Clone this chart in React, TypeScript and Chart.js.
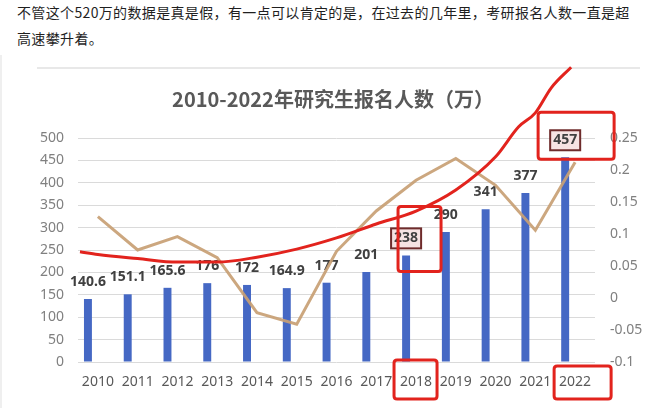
import React, { useEffect, useRef } from "react";
import { Chart, registerables } from "chart.js";

Chart.register(...registerables);

const introLine1 = "不管这个520万的数据是真是假，有一点可以肯定的是，在过去的几年里，考研报名人数一直是超";
const introLine2 = "高速攀升着。";
const chartTitle = "2010-2022年研究生报名人数（万）";

const years = ["2010", "2011", "2012", "2013", "2014", "2015", "2016", "2017", "2018", "2019", "2020", "2021", "2022"];
const applicants = [140.6, 151.1, 165.6, 176, 172, 164.9, 177, 201, 238, 290, 341, 377, 457];
const growthRate = [0.127, 0.075, 0.096, 0.063, -0.023, -0.041, 0.073, 0.136, 0.184, 0.218, 0.176, 0.106, 0.212];
// hand-drawn red trend curve (category index, value on left axis)
const trendX = [-0.45, 0, 1, 2, 3, 4, 5, 6, 7, 8, 9, 10, 10.58, 11, 11.4, 11.9];
const trendY = [246, 240, 231, 223, 223, 234, 252, 277, 308, 337, 384, 458, 525, 556, 612, 658];
const leftTicks = [0, 50, 100, 150, 200, 250, 300, 350, 400, 450, 500];
const rightTicks = [-0.1, -0.05, 0, 0.05, 0.1, 0.15, 0.2, 0.25];
const boxedYears = ["2018", "2022"];

const FONT = "'Noto Sans', 'Noto Sans CJK SC', sans-serif";

const barLabels = {
  id: "barLabels",
  afterDatasetDraw(chart: any, args: any) {
    if (args.index !== 0) return;
    const ctx = chart.ctx;
    ctx.save();
    ctx.font = `bold 14px ${FONT}`;
    ctx.textAlign = "center";
    ctx.textBaseline = "middle";
    args.meta.data.forEach((bar: any, i: number) => {
      const txt = String(applicants[i]);
      const x = bar.x;
      const y = bar.y - 17;
      if (boxedYears.includes(years[i])) {
        const w = ctx.measureText(txt).width + 6;
        ctx.fillStyle = "#F6E3E3";
        ctx.fillRect(x - w / 2, y - 10, w, 20);
        ctx.strokeStyle = "#6E2B2B";
        ctx.lineWidth = 2;
        ctx.strokeRect(x - w / 2, y - 10, w, 20);
      }
      ctx.fillStyle = "#404040";
      ctx.fillText(txt, x, y);
    });
    ctx.restore();
  },
};

function roundRect(ctx: CanvasRenderingContext2D, x1: number, y1: number, x2: number, y2: number, r: number) {
  ctx.beginPath();
  ctx.moveTo(x1 + r, y1);
  ctx.lineTo(x2 - r, y1);
  ctx.quadraticCurveTo(x2, y1, x2, y1 + r);
  ctx.lineTo(x2, y2 - r);
  ctx.quadraticCurveTo(x2, y2, x2 - r, y2);
  ctx.lineTo(x1 + r, y2);
  ctx.quadraticCurveTo(x1, y2, x1, y2 - r);
  ctx.lineTo(x1, y1 + r);
  ctx.quadraticCurveTo(x1, y1, x1 + r, y1);
  ctx.closePath();
  ctx.stroke();
}

const redMarks = {
  id: "redMarks",
  afterDraw(chart: any) {
    const ctx = chart.ctx;
    const xs = chart.scales.x;
    const ys = chart.scales.y;
    const bottom = chart.chartArea.bottom;
    ctx.save();
    ctx.strokeStyle = "#E2231D";
    ctx.lineWidth = 3;
    ctx.lineJoin = "round";
    boxedYears.forEach((yr, k) => {
      const i = years.indexOf(yr);
      const cx = xs.getPixelForValue(i);
      const top = ys.getPixelForValue(applicants[i]);
      if (k === 0) {
        roundRect(ctx, cx - 18, top - 49, cx + 25, top + 16, 3);
        roundRect(ctx, cx - 22, bottom - 2, cx + 21, bottom + 37, 3);
      } else {
        roundRect(ctx, cx - 37, top - 45, cx + 39, top + 2, 3);
        roundRect(ctx, cx - 21, bottom + 4, cx + 36, bottom + 37, 3);
      }
    });
    ctx.restore();
  },
};

function ChartView() {
  const ref = useRef<HTMLCanvasElement | null>(null);
  useEffect(() => {
    if (!ref.current) return;
    Chart.defaults.font.family = FONT;
    const chart = new Chart(ref.current, {
      type: "bar",
      data: {
        labels: years,
        datasets: [
          {
            type: "bar",
            data: applicants,
            backgroundColor: "#4568C4",
            barPercentage: 0.4,
            categoryPercentage: 1,
            yAxisID: "y",
            xAxisID: "x",
            order: 3,
          } as any,
          {
            type: "line",
            data: growthRate,
            borderColor: "rgba(200,160,116,0.92)",
            borderWidth: 3,
            pointRadius: 0,
            tension: 0,
            yAxisID: "y1",
            xAxisID: "x",
            order: 2,
          },
          {
            type: "line",
            data: trendX.map((x, i) => ({ x, y: trendY[i] })),
            borderColor: "#E2231D",
            borderWidth: 3,
            pointRadius: 0,
            cubicInterpolationMode: "monotone",
            yAxisID: "y",
            xAxisID: "xr",
            clip: false,
            order: 1,
          } as any,
        ],
      },
      options: {
        responsive: false,
        animation: false,
        layout: { padding: { left: 16, right: 0, top: 0, bottom: 0 } },
        plugins: {
          legend: { display: false },
          tooltip: { enabled: false },
          title: {
            display: true,
            text: chartTitle,
            color: "#595959",
            font: { size: 20, weight: "bold", family: "'Noto Sans CJK SC', 'Noto Sans', sans-serif" },
            padding: { top: 27, bottom: 27 },
          },
        },
        scales: {
          x: {
            type: "category",
            offset: true,
            grid: { display: false, drawTicks: false },
            border: { display: false },
            ticks: { color: "#595959", font: { size: 14 }, padding: 12, maxRotation: 0, autoSkip: false },
            afterFit: (s: any) => { s.height = 46; },
          },
          xr: {
            type: "linear",
            display: false,
            offset: false,
            min: -0.5,
            max: 12.5,
          },
          y: {
            type: "linear",
            position: "left",
            min: 0,
            max: 500,
            afterBuildTicks: (s: any) => { s.ticks = leftTicks.map((v) => ({ value: v })); },
            grid: { color: "#DADADA", lineWidth: 1, drawTicks: false },
            border: { display: false },
            ticks: { color: "#808080", font: { size: 14 }, padding: 14 },
            afterFit: (s: any) => { s.width = 62; },
          },
          y1: {
            type: "linear",
            position: "right",
            min: -0.1,
            max: 0.25,
            afterBuildTicks: (s: any) => { s.ticks = rightTicks.map((v) => ({ value: v })); },
            grid: { drawOnChartArea: false, drawTicks: false },
            border: { display: false },
            ticks: { color: "#808080", font: { size: 14 }, padding: 15, callback: (v: any) => String(Math.round(Number(v) * 100) / 100) },
            afterFit: (s: any) => { s.width = 55; },
          },
        },
      } as any,
      plugins: [barLabels, redMarks],
    });
    return () => chart.destroy();
  }, []);
  return <canvas ref={ref} width={650} height={348} style={{ position: "absolute", left: 0, top: 60, width: 650, height: 348 }} />;
}

export default function App() {
  return (
    <div style={{ position: "fixed", left: 0, top: 0, width: 650, height: 408, background: "#ffffff", overflow: "hidden" }}>
      <div style={{ position: "absolute", left: 0, top: 55, width: 2, height: 353, background: "#EFEFEF" }} />
      <div
        style={{
          position: "absolute",
          left: 17,
          top: -1,
          fontFamily: "'Noto Sans CJK SC', sans-serif",
          fontSize: 14,
          lineHeight: "26px",
          letterSpacing: "0.35px",
          color: "#1F1F1F",
          whiteSpace: "nowrap",
        }}
      >
        <div>{introLine1}</div>
        <div>{introLine2}</div>
      </div>
      <div style={{ position: "absolute", left: 37, top: 67, width: 603, height: 2, background: "#E8E8E8" }} />
      <ChartView />
    </div>
  );
}
